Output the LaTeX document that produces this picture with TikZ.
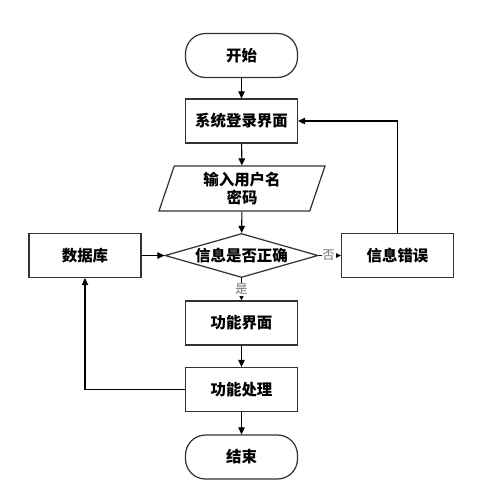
\documentclass[tikz,border=0pt]{standalone}
\usepackage{fontspec}
\setmainfont{Noto Sans CJK SC}
\usetikzlibrary{arrows.meta,positioning,shapes.geometric}

\begin{document}
\begin{tikzpicture}[x=0.02cm, y=-0.02cm,
    box/.style={draw=black!80, line width=0.7pt, minimum width=2.24cm, minimum height=0.88cm, font=\fontsize{8.8}{10}\selectfont\bfseries, text=black},
    term/.style={box, rounded corners=0.4cm},
    io/.style={box, trapezium, trapezium left angle=67, trapezium right angle=113, trapezium stretches body=true, minimum width=3.32cm, minimum height=0.9cm, align=center, inner sep=1pt},
    cond/.style={box, diamond, aspect=3.5, minimum width=3.06cm, minimum height=0.88cm, inner sep=0pt},
    arr/.style={-{Triangle[length=1.4mm, width=1.3mm]}, line width=0.6pt, black},
    lbl/.style={font=\fontsize{7}{8}\selectfont, text=black!55, fill=white, inner sep=0.5pt},
]
\useasboundingbox (0,0) rectangle (496,488);

% main column
\node[term] (start) at (241.5,55.5) {开始};
\node[box] (login) at (241.5,121) {系统登录界面};
\node[io] (input) at (242,188.5) {输入用户名\\密码};
\node[cond] (check) at (241.5,255.5) {信息是否正确};
\node[box] (func) at (241.5,323) {功能界面};
\node[box] (proc) at (241.5,389.5) {功能处理};
\node[term] (stop) at (241.5,457) {结束};

% side boxes
\node[box] (db) at (85,255.5) {数据库};
\node[box] (err) at (397.5,255.5) {信息错误};

% arrows
\draw[arr] (start) -- (login);
\draw[arr] (login) -- (input);
\draw[arr] (input) -- (check);
\draw[arr] (check) -- node[lbl] {是} (func);
\draw[arr] (func) -- (proc);
\draw[arr] (proc) -- (stop);
\draw[arr] (db) -- (check);
\draw[arr] (check) -- node[lbl, pos=0.45] {否} (err);
\draw[arr] (err.north) |- (login.east);
\draw[arr] (proc.west) -| (db.south);
\end{tikzpicture}
\end{document}
